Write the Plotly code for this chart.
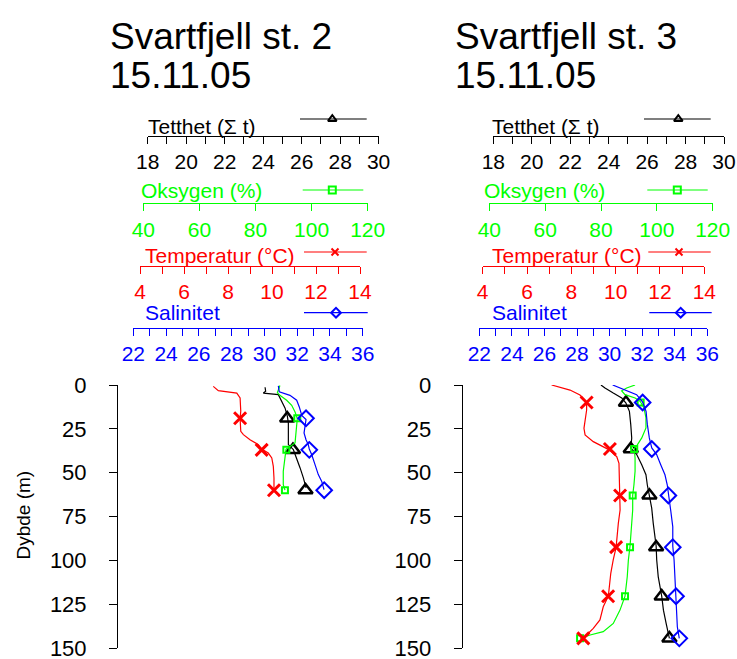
import plotly.graph_objects as go

W, H = 737, 659
FONT = "Liberation Sans, Arial, sans-serif"

# ------------------------------------------------------------------ data
VARS = ["Tetthet", "Oksygen", "Temperatur", "Salinitet"]
VAR_LABELS = ["Tetthet (\u03a3 t)", "Oksygen (%)", "Temperatur (\u00b0C)", "Salinitet"]
VAR_COLORS = ["#000000", "#00FF00", "#FF0000", "#0000FF"]
VAR_RANGES = [(18, 30), (40, 120), (4, 14), (22, 36)]
VAR_DTICK = [2, 20, 2, 2]
VAR_MINOR = [1, None, 1, 1]
DEPTH_TICKS = [0, 25, 50, 75, 100, 125, 150]
DEPTH_RANGE = (0, 150)

TITLES = ["Svartfjell st. 2", "Svartfjell st. 3"]
DATES = ["15.11.05", "15.11.05"]

# Station 2 - continuous profiles
s2_dens_depth = [1.3, 3.6, 4.6, 5.5, 13.2, 17.9, 21.7, 34, 36.9, 41.6, 47.3, 53, 58.7]
s2_dens = [24.10, 24.13, 24.01, 24.79, 25.14, 25.26, 25.31, 25.31, 25.57, 25.74, 25.92, 26.09, 26.23]
s2_oxy_depth = [0.3, 4.4, 5.9, 8.7, 11.6, 15.4, 19.2, 22.6, 28.3, 33, 35.5, 36.5, 41.6, 49.2, 56.8, 60]
s2_oxy = [88.7, 87.8, 88.7, 91.1, 92.9, 94.1, 94.9, 94.7, 94.4, 94.1, 92.0, 90.9, 90.5, 89.9, 89.9, 90.5]
s2_temp_depth = [0.8, 3.2, 4.6, 7.4, 15, 19, 26.4, 28.3, 31.2, 34, 36.5, 38.8, 41.6, 46.4, 53, 59.7, 62]
s2_temp = [7.33, 7.56, 8.40, 8.55, 8.58, 8.55, 8.58, 8.70, 9.00, 9.38, 9.53, 9.83, 9.99, 10.06, 10.09, 10.09, 10.25]
s2_sal_depth = [0.5, 3.9, 5.9, 8.7, 12.5, 17.3, 19.7, 22.6, 27.4, 31.2, 34, 36.5, 39.8, 45.4, 51.1, 55, 59.7]
s2_sal = [30.85, 30.91, 31.56, 31.97, 32.13, 32.28, 32.54, 32.48, 32.42, 32.54, 32.68, 32.74, 32.89, 33.09, 33.29, 33.50, 33.64]

# Station 2 - bottle samples
s2_sample_depth = [19, 37, 60]
s2_sample_dens = [25.25, 25.55, 26.20]
s2_sample_oxy = [94.9, 91.0, 90.5]
s2_sample_temp = [8.55, 9.53, 10.09]
s2_sample_sal = [32.54, 32.74, 33.65]

# Station 3 - continuous profiles
s3_dens_depth = [0, 1.7, 4.6, 7.4, 10.3, 15, 22.6, 30.2, 35.9, 39.7, 45.5, 51.2, 56.9, 62.6, 70.2,
                 78.9, 86.5, 91.8, 99.8, 109.4, 120.4, 128.4, 136, 139.8, 144.5]
s3_dens = [23.60, 23.81, 24.24, 24.68, 24.90, 25.08, 25.15, 25.20, 25.15, 25.46, 25.72, 25.94, 26.01, 26.12, 26.24,
           26.32, 26.41, 26.47, 26.50, 26.58, 26.76, 26.85, 26.99, 27.05, 27.16]
s3_oxy_depth = [0, 1.7, 3.3, 5.5, 7.4, 9.3, 13.1, 18.8, 24.5, 30.2, 34.1, 36.3, 41.6, 49.2, 56.9, 62.9, 71.3,
                80.8, 91.8, 99.8, 109.4, 120.4, 128.4, 136, 140.7, 142.6, 144.5]
s3_oxy = [92.2, 89.2, 87.4, 88.6, 92.2, 94.0, 95.4, 96.1, 96.1, 94.6, 93.0, 91.9, 92.2, 92.2, 91.8, 91.35, 91.35,
          91.0, 90.4, 89.8, 89.4, 88.6, 86.8, 84.4, 80.8, 76.1, 72.5]
s3_temp_depth = [0, 2.9, 5.7, 9.9, 14.3, 24.7, 28.5, 32.3, 37, 40.9, 44.7, 54.2, 62.7, 71.3, 78.9, 88.4, 92.6,
                 99.8, 107.4, 120.4, 126.5, 134, 138.8, 142.6, 144.5]
s3_temp = [7.11, 7.94, 8.39, 8.69, 8.69, 8.57, 8.62, 8.99, 9.71, 10.05, 10.15, 10.16, 10.20, 10.20, 10.12, 10.07, 10.02,
           9.89, 9.78, 9.67, 9.44, 9.29, 8.99, 8.69, 8.54]
s3_sal_depth = [0, 1.7, 3.6, 5.5, 9.7, 15, 22.6, 30.2, 35.9, 39.7, 45.5, 51.2, 56.9, 62.9, 72, 80.8, 91.8,
                99.8, 109.4, 120.4, 128.4, 137.9, 144.5]
s3_sal = [30.19, 30.64, 31.15, 31.66, 32.03, 32.24, 32.32, 32.44, 32.59, 32.89, 33.14, 33.40, 33.54, 33.61, 33.76,
          33.88, 33.88, 33.96, 34.02, 34.08, 34.12, 34.16, 34.28]

# Station 3 - bottle samples
s3_sample_depth = [10, 36.5, 63, 92.5, 120.5, 144.5]
s3_sample_dens = [24.90, 25.15, 26.12, 26.47, 26.76, 27.16]
s3_sample_oxy = [94.2, 91.9, 91.35, 90.4, 88.6, 72.5]
s3_sample_temp = [8.69, 9.74, 10.20, 10.02, 9.66, 8.54]
s3_sample_sal = [32.03, 32.59, 33.61, 33.88, 34.08, 34.28]

PROFILES = [
    [(s2_dens, s2_dens_depth), (s2_oxy, s2_oxy_depth), (s2_temp, s2_temp_depth), (s2_sal, s2_sal_depth)],
    [(s3_dens, s3_dens_depth), (s3_oxy, s3_oxy_depth), (s3_temp, s3_temp_depth), (s3_sal, s3_sal_depth)],
]
SAMPLES = [
    (s2_sample_depth, [s2_sample_dens, s2_sample_oxy, s2_sample_temp, s2_sample_sal]),
    (s3_sample_depth, [s3_sample_dens, s3_sample_oxy, s3_sample_temp, s3_sample_sal]),
]

# ------------------------------------------------------------------ layout (pixels)
AXIS_SPANS = [
    [(147.7, 378.6), (143.3, 367.7), (140.0, 360.0), (133.3, 362.7)],
    [(493.3, 724.0), (489.3, 712.7), (482.7, 704.3), (479.3, 707.3)],
]
AXIS_LINE_Y = [136, 203.3, 265.7, 327.7]
DEPTH_AXIS_X = [117, 461.7]
DEPTH_Y0, DEPTH_Y1 = 385, 648          # pixel rows of depth 0 and depth 150
LABEL_X = [[146, 139, 143, 143], [490, 481.5, 490, 490]]
LABEL_Y = [126.5, 190.5, 255, 312.5]
KEY_Y = [119, 190, 252, 312.7]
KEY_SPAN = [
    [(300, 366.7, 332.3), (302.7, 363.3, 332.3), (304, 366.7, 335), (304, 367.7, 336)],
    [(644, 710.7, 678.3), (647.3, 707.7, 677.3), (648.3, 710.7, 679), (649.3, 711.7, 680.7)],
]
TITLE_X = [108, 453]
TITLE_Y = [36, 76]

MARKERS = [
    dict(symbol="triangle-up-open", size=12.5, lw=2.5, ksize=7.5),
    dict(symbol="square-open", size=6, lw=2.0, ksize=7),
    dict(symbol="x-thin", size=12, lw=3.0, ksize=7),
    dict(symbol="diamond-open", size=12, lw=2.0, ksize=7.5),
]


def fx(x):
    return x / W


def fy(y):
    return 1 - y / H


fig = go.Figure()
layout = dict(
    width=W, height=H, autosize=False,
    margin=dict(l=0, r=0, t=0, b=0, pad=0, autoexpand=False),
    paper_bgcolor="white", plot_bgcolor="rgba(0,0,0,0)",
    showlegend=False,
    font=dict(family=FONT, color="black"),
)
annotations = []

for p in range(2):
    ykey = "yaxis" if p == 0 else "yaxis2"
    yref = "y" if p == 0 else "y2"
    layout[ykey] = dict(
        domain=[fy(DEPTH_Y1), fy(DEPTH_Y0)],
        range=[DEPTH_RANGE[1], DEPTH_RANGE[0]],
        anchor="free", position=fx(DEPTH_AXIS_X[p]),
        side="left", showline=True, linecolor="black", linewidth=1, ticks="outside", ticklen=8,
        tickcolor="black", tickvals=DEPTH_TICKS, tickfont=dict(size=22, color="black", family=FONT),
        ticklabelstandoff=18, ticklabeloverflow="allow",
        showgrid=False, zeroline=False, fixedrange=True,
    )
    for v in range(4):
        n = p * 4 + v + 1
        xkey = "xaxis" if n == 1 else f"xaxis{n}"
        xref = "x" if n == 1 else f"x{n}"
        c = VAR_COLORS[v]
        x0, x1 = AXIS_SPANS[p][v]
        ax = dict(
            domain=[fx(x0), fx(x1)], range=list(VAR_RANGES[v]), anchor="free", position=fy(AXIS_LINE_Y[v]),
            side="bottom", showline=True, linecolor=c, linewidth=1, ticks="outside", ticklen=7, tickcolor=c,
            tickwidth=1, tick0=VAR_RANGES[v][0], dtick=VAR_DTICK[v],
            tickfont=dict(size=21, color=c, family=FONT), ticklabeloverflow="allow",
            showgrid=False, zeroline=False, fixedrange=True,
        )
        if VAR_MINOR[v]:
            ax["minor"] = dict(dtick=VAR_MINOR[v], tick0=VAR_RANGES[v][0], ticks="outside", ticklen=7,
                               tickcolor=c, tickwidth=1, showgrid=False)
        layout[xkey] = ax

        vals, dep = PROFILES[p][v]
        fig.add_trace(go.Scatter(x=vals, y=dep, mode="lines", line=dict(color=c, width=1.2),
                                 xaxis=xref, yaxis=yref, hoverinfo="skip"))
        sdep, svals = SAMPLES[p]
        m = MARKERS[v]
        fig.add_trace(go.Scatter(x=svals[v], y=sdep, mode="markers", cliponaxis=False,
                                 marker=dict(symbol=m["symbol"], size=m["size"], color=c,
                                             line=dict(color=c, width=m["lw"])),
                                 xaxis=xref, yaxis=yref, hoverinfo="skip"))

        # legend key (decoration) on a pixel-space overlay axis
        kx0, kx1, kxm = KEY_SPAN[p][v]
        fig.add_trace(go.Scatter(x=[kx0, kx1], y=[KEY_Y[v], KEY_Y[v]], mode="lines",
                                 line=dict(color=c, width=1.2), xaxis="x9", yaxis="y3", hoverinfo="skip"))
        fig.add_trace(go.Scatter(x=[kxm], y=[KEY_Y[v]], mode="markers", cliponaxis=False,
                                 marker=dict(symbol=m["symbol"], size=m["ksize"], color=c,
                                             line=dict(color=c, width=2)),
                                 xaxis="x9", yaxis="y3", hoverinfo="skip"))

        annotations.append(dict(text=VAR_LABELS[v], xref="paper", yref="paper", x=fx(LABEL_X[p][v]),
                                y=fy(LABEL_Y[v]), xanchor="left", yanchor="middle", showarrow=False,
                                font=dict(size=21, color=c, family=FONT)))

    annotations.append(dict(text=TITLES[p], xref="paper", yref="paper", x=fx(TITLE_X[p]), y=fy(TITLE_Y[0]),
                            xanchor="left", yanchor="middle", showarrow=False,
                            font=dict(size=37, color="black", family=FONT)))
    annotations.append(dict(text=DATES[p], xref="paper", yref="paper", x=fx(TITLE_X[p]), y=fy(TITLE_Y[1]),
                            xanchor="left", yanchor="middle", showarrow=False,
                            font=dict(size=37, color="black", family=FONT)))

annotations.append(dict(text="Dybde (m)", xref="paper", yref="paper", x=fx(23), y=fy(515.5),
                        xanchor="center", yanchor="middle", textangle=-90, showarrow=False,
                        font=dict(size=19, color="black", family=FONT)))

layout["xaxis9"] = dict(domain=[0, 1], range=[0, W], visible=False, anchor="y3", fixedrange=True)
layout["yaxis3"] = dict(domain=[0, 1], range=[H, 0], visible=False, anchor="x9", fixedrange=True)
layout["annotations"] = annotations

fig.update_layout(**layout)
fig.write_html("out.html", config={"displayModeBar": False},
               post_script="document.body.style.margin='0px';document.body.style.padding='0px';")
